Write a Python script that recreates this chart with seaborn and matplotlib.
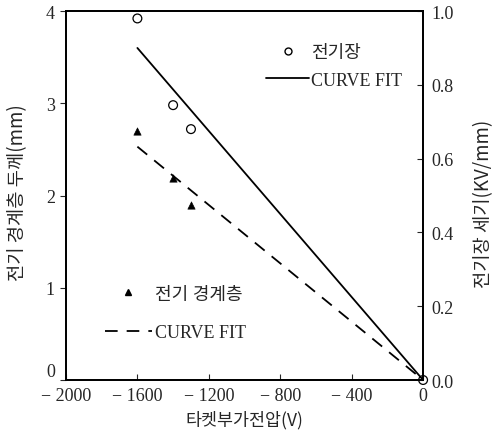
import seaborn as sns
import matplotlib.pyplot as plt
from matplotlib.lines import Line2D

# electric field (right axis, KV/mm)
field_v = [-1600, -1400, -1300, 0]
field_e = [0.98, 0.745, 0.68, 0.0]
field_fit_v = [-1600, 0]
field_fit_e = [0.90, 0.0]

# boundary layer thickness (left axis, mm)
layer_v = [-1600, -1400, -1300]
layer_t = [2.70, 2.19, 1.90]
layer_fit_v = [-1600, 0]
layer_fit_t = [2.53, 0.0]

xticks = [-2000, -1600, -1200, -800, -400, 0]
left_ticks = [0, 1, 2, 3, 4]
right_ticks = [0.0, 0.2, 0.4, 0.6, 0.8, 1.0]


def main():
    sns.set_style("ticks")
    serif = ['Liberation Serif', 'Noto Sans CJK KR']
    kr = ['Noto Sans CJK KR', 'DejaVu Sans']
    plt.rcParams['font.family'] = serif

    fig = plt.figure(figsize=(4.96, 4.31), dpi=100)
    ax = fig.add_axes([0.133, 0.116, 0.72, 0.856])
    ax2 = ax.twinx()

    sns.scatterplot(ax=ax, x=layer_v, y=layer_t, marker='^', color='black',
                    s=28, edgecolor='black', legend=False)
    sns.lineplot(ax=ax, x=layer_fit_v, y=layer_fit_t, color='black',
                 linewidth=1.3, linestyle=(0, (7, 5)))
    sns.scatterplot(ax=ax2, x=field_v, y=field_e, marker='o', facecolor='none',
                    edgecolor='black', linewidth=0.9, s=40, legend=False,
                    clip_on=False)
    sns.lineplot(ax=ax2, x=field_fit_v, y=field_fit_e, color='black',
                 linewidth=1.3)

    ax.set_xlim(-2000, 0)
    ax.set_ylim(0, 4)
    ax2.set_ylim(0, 1.0)
    ax.set_xticks(xticks)
    ax.set_xticklabels([str(v).replace('-', '\u2212 ') for v in xticks])
    ax.set_yticks(left_ticks)
    ax2.set_yticks(right_ticks)
    ax2.set_yticklabels([f"{v:.1f}" for v in right_ticks])

    for a in (ax, ax2):
        for s in a.spines.values():
            s.set_visible(True)
            s.set_linewidth(1.3)
            s.set_color('black')
    ax.tick_params(axis='x', direction='in', length=4, labelsize=13, pad=5)
    ax.tick_params(axis='y', direction='out', length=4, labelsize=13, pad=4)
    ax2.tick_params(axis='y', direction='in', length=4, labelsize=13, pad=6)
    ax.get_yticklabels()[0].set_va('bottom')

    ax.set_xlabel("타켓부가전압(V)", family=kr, fontsize=12.5, labelpad=4)
    ax.set_ylabel("전기 경계층 두께(mm)", family=kr, fontsize=13.5)
    ax2.set_ylabel("전기장 세기(KV/mm)", family=kr, fontsize=13.5)
    ax.yaxis.set_label_coords(-0.105, 0.51)
    ax2.yaxis.set_label_coords(1.14, 0.48)

    h1 = [Line2D([], [], marker='o', markerfacecolor='none', markeredgecolor='black',
                 linestyle='none', markersize=5),
          Line2D([], [], color='black', linewidth=1.3)]
    leg1 = ax2.legend(h1, ["전기장", "CURVE FIT"], frameon=False, loc='upper left',
                      bbox_to_anchor=(0.56, 0.911), borderpad=0, borderaxespad=0,
                      handlelength=2.4, handletextpad=0.1, labelspacing=0.6,
                      prop={'family': serif, 'size': 13})
    ax2.add_artist(leg1)

    h2 = [Line2D([], [], marker='^', color='black', linestyle='none', markersize=5),
          Line2D([], [], color='black', linewidth=1.3, linestyle=(0, (7, 5)))]
    ax2.legend(h2, ["전기 경계층", "CURVE FIT"], frameon=False, loc='upper left',
               bbox_to_anchor=(0.109, 0.256), borderpad=0, borderaxespad=0,
               handlelength=2.6, handletextpad=0.15, labelspacing=1.2,
               prop={'family': serif, 'size': 13})

    plt.savefig('out.png', dpi=100)


if __name__ == "__main__":
    main()
